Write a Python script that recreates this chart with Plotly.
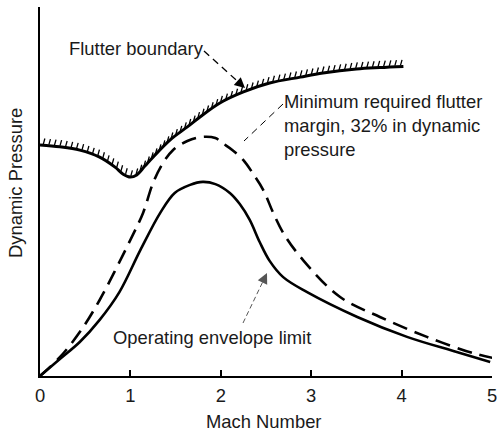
import numpy as np
import plotly.graph_objects as go

# ---- data ----
mach_flutter = [0.0, 0.22, 0.44, 0.66, 0.83, 0.92, 1.0, 1.07, 1.16, 1.25, 1.44, 1.63, 1.77, 1.99, 2.25, 2.54, 2.88, 3.13, 3.50, 3.76, 4.02]
q_flutter = [62.6, 62.1, 61.2, 59.3, 56.6, 54.7, 53.9, 54.5, 56.9, 59.3, 64.0, 67.5, 70.2, 74.0, 77.0, 79.4, 81.0, 82.1, 83.2, 83.6, 83.9]

mach_margin = [0.0, 0.22, 0.44, 0.66, 1.0, 1.14, 1.25, 1.36, 1.47, 1.63, 1.79, 1.94, 2.02, 2.13, 2.25, 2.36, 2.47, 2.58, 2.69, 2.91, 3.32, 3.76, 4.28, 4.79, 5.01]
q_margin = [0.0, 5.1, 11.9, 20.6, 36.9, 44.2, 52.3, 57.7, 61.2, 63.7, 64.8, 64.5, 63.1, 61.2, 58.5, 54.7, 50.4, 44.2, 38.8, 31.4, 21.4, 16.0, 10.6, 6.2, 4.9]

mach_env = [0.0, 0.22, 0.44, 0.66, 0.88, 1.11, 1.33, 1.49, 1.66, 1.80, 1.94, 2.10, 2.21, 2.32, 2.43, 2.54, 2.69, 2.95, 3.51, 4.06, 4.61, 4.98]
q_env = [0.0, 4.6, 9.2, 15.2, 22.8, 34.1, 44.2, 49.6, 51.8, 52.6, 52.0, 49.6, 46.6, 42.3, 36.3, 31.2, 26.8, 22.8, 16.0, 10.6, 6.5, 3.8]

x_ticks = [0, 1, 2, 3, 4, 5]

# ---- layout geometry ----
W, H = 497, 433
L, R, T, B = 40, 5, 7, 57
PW, PH = W - L - R, H - T - B
XR = (0, 5)
YR = (0, 100)
FONT = "Liberation Sans, Arial, sans-serif"
FS = 18.4
TXT = "#1a1a1a"


def to_px(x, y):
    x = np.asarray(x, float)
    y = np.asarray(y, float)
    return L + (x - XR[0]) / (XR[1] - XR[0]) * PW, T + (1 - (y - YR[0]) / (YR[1] - YR[0])) * PH


def to_data(px, py):
    px = np.asarray(px, float)
    py = np.asarray(py, float)
    return XR[0] + (px - L) / PW * (XR[1] - XR[0]), YR[0] + (1 - (py - T) / PH) * (YR[1] - YR[0])


def paper(px, py):
    return (px - L) / PW, 1 - (py - T) / PH


# ---- hatch marks along the flutter boundary ----
fx, fy = to_px(mach_flutter, q_flutter)
seg = np.hypot(np.diff(fx), np.diff(fy))
s = np.concatenate([[0], np.cumsum(seg)])
samples = np.arange(3, s[-1] - 1, 5.6)
hx = np.interp(samples, s, fx)
hy = np.interp(samples, s, fy)
d = np.array([0.28, -1.0])
d = d / np.hypot(*d)
hatch_x, hatch_y = [], []
for px_, py_ in zip(hx, hy):
    x0, y0 = to_data(px_ + d[0] * 1.2, py_ + d[1] * 1.2)
    x1, y1 = to_data(px_ + d[0] * 7.0, py_ + d[1] * 7.0)
    hatch_x += [float(x0), float(x1), None]
    hatch_y += [float(y0), float(y1), None]

fig = go.Figure()
fig.add_trace(go.Scatter(x=hatch_x, y=hatch_y, mode="lines",
                         line=dict(color="black", width=1.3), hoverinfo="skip", showlegend=False))
fig.add_trace(go.Scatter(x=mach_flutter, y=q_flutter, mode="lines", line_shape="spline",
                         line=dict(color="black", width=3), showlegend=False, name="Flutter boundary"))
fig.add_trace(go.Scatter(x=mach_margin, y=q_margin, mode="lines", line_shape="spline",
                         line=dict(color="black", width=2.6, dash="15px,8px"), showlegend=False,
                         name="Minimum required flutter margin"))
fig.add_trace(go.Scatter(x=mach_env, y=q_env, mode="lines", line_shape="spline",
                         line=dict(color="black", width=2.6), showlegend=False, name="Operating envelope limit"))

shapes = []
annotations = []


def dashed_arrow(tail, tip, color, width, dash, head_len, head=True):
    tx, ty = tail
    ex, ey = tip
    v = np.array([ex - tx, ey - ty], float)
    v /= np.hypot(*v)
    end = (ex - v[0] * (head_len - 1), ey - v[1] * (head_len - 1)) if head else (ex, ey)
    x0, y0 = to_data(tx, ty)
    x1, y1 = to_data(*end)
    shapes.append(dict(type="line", xref="x", yref="y", x0=float(x0), y0=float(y0), x1=float(x1), y1=float(y1),
                       line=dict(color=color, width=width, dash=dash)))
    if head:
        hx_, hy_ = to_data(ex, ey)
        annotations.append(dict(x=float(hx_), y=float(hy_), xref="x", yref="y", text="", showarrow=True,
                                ax=float(-v[0] * head_len), ay=float(-v[1] * head_len),
                                arrowhead=2, arrowsize=1.6, arrowwidth=1.3, arrowcolor=color, standoff=0))


dashed_arrow((204, 51), (245, 88), "black", 1.3, "7px,5px", 9)
dashed_arrow((243, 323), (267, 273), "#555555", 1.0, "5px,3px", 8)
dashed_arrow((283, 104), (244, 141), "black", 1.0, "7px,5px", 0, head=False)


def text(px, py, s, xanchor="left", yanchor="middle", align="left", size=FS, angle=0):
    x, y = paper(px, py)
    annotations.append(dict(x=x, y=y, xref="paper", yref="paper", text=s, showarrow=False,
                            xanchor=xanchor, yanchor=yanchor, align=align, textangle=angle,
                            font=dict(family=FONT, size=size, color=TXT)))


text(67, 49, "Flutter boundary")
text(282, 126, "Minimum required flutter<br>margin, 32% in dynamic<br>pressure")
text(111, 337, "Operating envelope limit")
text(204, 421, "Mach Number", xanchor="left")
text(16, 183, "Dynamic Pressure", xanchor="center", angle=-90)

fig.update_layout(
    width=W, height=H,
    margin=dict(l=L, r=R, t=T, b=B, pad=0, autoexpand=False),
    paper_bgcolor="white", plot_bgcolor="white",
    shapes=shapes, annotations=annotations,
    font=dict(family=FONT, size=FS, color=TXT),
    xaxis=dict(range=list(XR), tickvals=x_ticks, ticktext=[str(t) for t in x_ticks],
               showline=True, linecolor="black", linewidth=1.5, automargin=False,
               ticks="inside", ticklen=6, tickwidth=1.5, tickcolor="black",
               showgrid=False, zeroline=False, ticklabelstandoff=2, ticklabeloverflow="allow",
               tickfont=dict(family=FONT, size=FS, color=TXT)),
    yaxis=dict(range=list(YR), showline=True, linecolor="black", linewidth=1.5, automargin=False,
               showticklabels=False, ticks="", showgrid=False, zeroline=False),
)

fig.write_html("out.html")
